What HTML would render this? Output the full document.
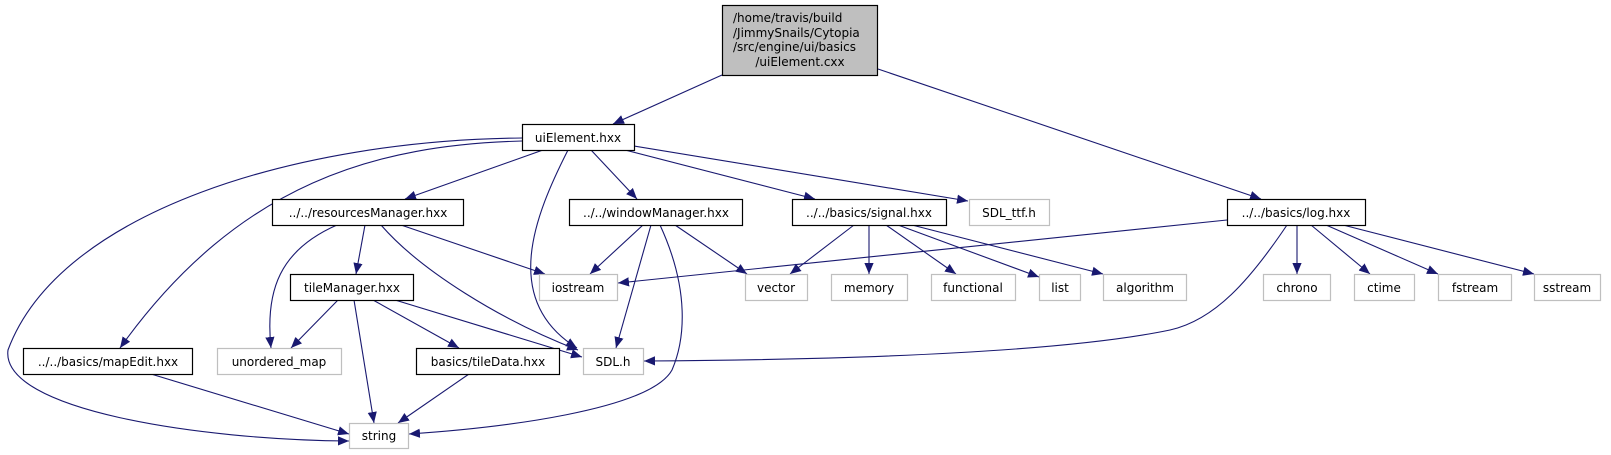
<!DOCTYPE html>
<html><head><meta charset="utf-8"><style>
html,body{margin:0;padding:0;background:#fff;}
svg{display:block;}
text{font-family:"DejaVu Sans","Liberation Sans",sans-serif;font-size:12px;fill:#000;}
</style></head><body>
<svg width="1611" height="455" viewBox="0 0 1611 455" xmlns="http://www.w3.org/2000/svg">
<defs>
<marker id="a" viewBox="0 0 10 10" refX="10" refY="5" markerWidth="11" markerHeight="11" markerUnits="userSpaceOnUse" orient="auto">
<path d="M0,0.8 L10,5 L0,9.2 Z" fill="#191970"/>
</marker>
</defs>
<g fill="none" stroke="#191970" stroke-width="1.1" marker-end="url(#a)">
<path d="M722,75 L613,124"/>
<path d="M878,69 L1261,199"/>
<path d="M522,138 C300,140 60,210 8,350 C0,410 200,440 349,441"/>
<path d="M522,141 C380,145 240,180 120,348"/>
<path d="M543,150 L405,199"/>
<path d="M568,150 C535,215 500,300 577,348"/>
<path d="M591,150 L637,199"/>
<path d="M625,150 L815,199"/>
<path d="M634,146 L968,201"/>
<path d="M337,225 C280,250 265,290 271,348"/>
<path d="M365,225 L356,274"/>
<path d="M381,225 C420,270 500,320 578,350"/>
<path d="M401,225 L545,274"/>
<path d="M643,225 L590,274"/>
<path d="M651,225 L616,348"/>
<path d="M660,225 C690,290 685,340 672,370 C650,410 500,428 409,434"/>
<path d="M675,225 L747,274"/>
<path d="M854,225 L790,274"/>
<path d="M869,225 L869,274"/>
<path d="M886,225 L956,274"/>
<path d="M898,225 L1039,277"/>
<path d="M912,225 L1103,274"/>
<path d="M1227,220 L618,283"/>
<path d="M1287,225 C1250,280 1215,320 1170,330 C1050,355 800,360 644,361"/>
<path d="M1297,225 L1297,274"/>
<path d="M1311,225 L1370,274"/>
<path d="M1326,225 L1438,274"/>
<path d="M1343,225 L1534,274"/>
<path d="M338,300 L291,348"/>
<path d="M354,300 L374,423"/>
<path d="M373,300 L459,348"/>
<path d="M395,300 L582,357"/>
<path d="M151,374 L349,434"/>
<path d="M469,374 L398,423"/>
</g>
<g stroke-width="1.2">
<rect x="722.5" y="5.5" width="155" height="70" fill="#bfbfbf" stroke="#000"/>
<g fill="#fff" stroke="#000">
<rect x="522.5" y="124.5" width="112" height="26"/>
<rect x="272.5" y="199.5" width="191" height="26"/>
<rect x="569.5" y="199.5" width="173" height="26"/>
<rect x="792.5" y="199.5" width="154" height="26"/>
<rect x="1227.5" y="199.5" width="138" height="26"/>
<rect x="290.5" y="274.5" width="123" height="26"/>
<rect x="23.5" y="348.5" width="169" height="26"/>
<rect x="416.5" y="348.5" width="143" height="26"/>
</g>
<g fill="#fff" stroke="#bfbfbf">
<rect x="969.5" y="199.5" width="80" height="26"/>
<rect x="539.5" y="274.5" width="78" height="26"/>
<rect x="745.5" y="274.5" width="62" height="26"/>
<rect x="831.5" y="274.5" width="76" height="26"/>
<rect x="931.5" y="274.5" width="84" height="26"/>
<rect x="1039.5" y="274.5" width="41" height="26"/>
<rect x="1103.5" y="274.5" width="83" height="26"/>
<rect x="1263.5" y="274.5" width="67" height="26"/>
<rect x="1354.5" y="274.5" width="60" height="26"/>
<rect x="1438.5" y="274.5" width="73" height="26"/>
<rect x="1534.5" y="274.5" width="66" height="26"/>
<rect x="217.5" y="348.5" width="124" height="26"/>
<rect x="583.5" y="348.5" width="60" height="26"/>
<rect x="349.5" y="423.5" width="59" height="25"/>
</g>
</g>
<g text-anchor="start">
<text x="733" y="22">/home/travis/build</text>
<text x="733" y="37">/JimmySnails/Cytopia</text>
<text x="733" y="51">/src/engine/ui/basics</text>
</g>
<g text-anchor="middle">
<text x="800" y="66">/uiElement.cxx</text>
<text x="578" y="142">uiElement.hxx</text>
<text x="368" y="217">../../resourcesManager.hxx</text>
<text x="656" y="217">../../windowManager.hxx</text>
<text x="869" y="217">../../basics/signal.hxx</text>
<text x="1009" y="217">SDL_ttf.h</text>
<text x="1296" y="217">../../basics/log.hxx</text>
<text x="352" y="292">tileManager.hxx</text>
<text x="578" y="292">iostream</text>
<text x="776" y="292">vector</text>
<text x="869" y="292">memory</text>
<text x="973" y="292">functional</text>
<text x="1060" y="292">list</text>
<text x="1145" y="292">algorithm</text>
<text x="1297" y="292">chrono</text>
<text x="1384" y="292">ctime</text>
<text x="1475" y="292">fstream</text>
<text x="1567" y="292">sstream</text>
<text x="108" y="366">../../basics/mapEdit.hxx</text>
<text x="279" y="366">unordered_map</text>
<text x="488" y="366">basics/tileData.hxx</text>
<text x="613" y="366">SDL.h</text>
<text x="379" y="440">string</text>
</g>
</svg>
</body></html>
